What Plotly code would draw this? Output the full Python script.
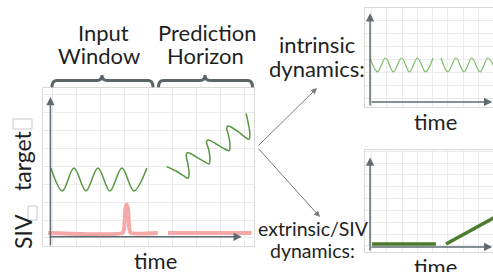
import plotly.graph_objects as go

W, H = 493, 272

# ---------------- data ----------------
# main panel: input window target (sinusoid read at peaks / troughs)
input_t = [-0.07, 0.41, 0.89, 1.39, 1.89, 2.39, 2.89, 3.39, 3.93]
input_target = [3.91, 2.63, 3.91, 2.63, 3.91, 2.63, 3.91, 2.63, 3.91]

# main panel: prediction horizon target (rising, tilted wave)
pred_t = [4.754, 5.183, 5.475, 5.654, 5.692, 5.633, 5.571, 5.621, 5.725, 6.058, 6.35,
          6.529, 6.563, 6.5, 6.417, 6.467, 6.575, 6.892, 7.183,
          7.363, 7.396, 7.333, 7.263, 7.308, 7.413, 7.725, 8.017,
          8.196, 8.225, 8.158, 8.071]
pred_target = [3.983, 3.715, 3.464, 3.335, 3.687, 4.19, 4.626, 4.771, 4.732, 4.48, 4.246,
               4.134, 4.469, 5.0, 5.363, 5.475, 5.436, 5.196, 4.972,
               4.877, 5.251, 5.754, 6.128, 6.257, 6.218, 5.95, 5.654,
               5.514, 5.866, 6.425, 6.966]

# main panel: SIV signal (input window with a spike, then horizon)
siv_t_in = [-0.19, 2.92, 2.98, 3.03, 3.09, 3.15, 3.20, 3.26, 4.39]
siv_in = [0.28, 0.28, 0.5, 1.55, 1.88, 1.55, 0.5, 0.28, 0.28]
siv_t_out = [4.81, 8.30]
siv_out = [0.28, 0.28]

# top-right panel: intrinsic dynamics
intr_t1 = [-0.09, 0.40, 0.92, 1.44, 1.97, 2.49, 3.01, 3.54, 4.03]
intr_v1 = [3.15, 2.08, 3.15, 2.08, 3.15, 2.08, 3.15, 2.08, 3.15]
intr_t2 = [4.55, 5.00, 5.53, 6.05, 6.57, 7.10, 7.62, 8.14]
intr_v2 = [3.15, 2.08, 3.15, 2.08, 3.15, 2.08, 3.15, 2.08]

# bottom-right panel: extrinsic / SIV dynamics
extr_t1 = [0.04, 4.22]
extr_v1 = [0.17, 0.17]
extr_t2 = [4.88, 8.50]
extr_v2 = [0.17, 2.72]

FONT = "Lato"
TXT = "#1f1f1f"
GRID = "#ebebeb"
BORDER = "#d9d9d9"
AXC = "#5f6b70"
GREEN = "#55973f"
GREEN_L = "#7fba6b"
GREEN_D = "#4c7d2c"
PINK = "#f4a8a8"


def px(x):
    return x / W


def py(y):
    return 1 - y / H


fig = go.Figure()

# main panel traces
fig.add_trace(go.Scatter(x=input_t, y=input_target, mode="lines",
                         line=dict(color=GREEN, width=1.5, shape="spline"),
                         xaxis="x", yaxis="y", hoverinfo="skip"))
fig.add_trace(go.Scatter(x=pred_t, y=pred_target, mode="lines",
                         line=dict(color=GREEN, width=1.5, shape="spline", smoothing=0.8),
                         xaxis="x", yaxis="y", hoverinfo="skip"))
fig.add_trace(go.Scatter(x=siv_t_in, y=siv_in, mode="lines",
                         line=dict(color=PINK, width=4, shape="spline", smoothing=0.6),
                         xaxis="x", yaxis="y", hoverinfo="skip"))
fig.add_trace(go.Scatter(x=siv_t_out, y=siv_out, mode="lines",
                         line=dict(color=PINK, width=4),
                         xaxis="x", yaxis="y", hoverinfo="skip"))

# top-right traces
fig.add_trace(go.Scatter(x=intr_t1, y=intr_v1, mode="lines",
                         line=dict(color=GREEN_L, width=1.2, shape="spline"),
                         xaxis="x2", yaxis="y2", hoverinfo="skip"))
fig.add_trace(go.Scatter(x=intr_t2, y=intr_v2, mode="lines",
                         line=dict(color=GREEN_L, width=1.2, shape="spline"),
                         xaxis="x2", yaxis="y2", hoverinfo="skip"))

# bottom-right traces
fig.add_trace(go.Scatter(x=extr_t1, y=extr_v1, mode="lines",
                         line=dict(color=GREEN_D, width=3.5),
                         xaxis="x3", yaxis="y3", hoverinfo="skip"))
fig.add_trace(go.Scatter(x=extr_t2, y=extr_v2, mode="lines",
                         line=dict(color=GREEN_D, width=3.5),
                         xaxis="x3", yaxis="y3", hoverinfo="skip"))


def ax_style(domain, rng, mirror=True):
    return dict(domain=domain, range=rng, showticklabels=False, ticks="",
                zeroline=False, showgrid=True, gridcolor=GRID, gridwidth=1,
                tick0=0, dtick=1, showline=True, linecolor=BORDER,
                linewidth=1, mirror=mirror, fixedrange=True)


fig.update_layout(
    width=W, height=H,
    margin=dict(l=0, r=0, t=0, b=0),
    paper_bgcolor="white", plot_bgcolor="white",
    showlegend=False,
    font=dict(family=FONT, color=TXT),
    xaxis=dict(**ax_style([px(43), px(254)], [-0.4, 8.4]), anchor="y"),
    yaxis=dict(**ax_style([py(246), py(88)], [-0.45, 8.38]), anchor="x"),
    xaxis2=dict(**ax_style([px(365), 1.0], [-0.42, 7.95]), anchor="y2"),
    yaxis2=dict(**ax_style([py(107), py(8)], [-0.62, 7.0], mirror=False), anchor="x2"),
    xaxis3=dict(**ax_style([px(365), 1.0], [-0.42, 7.95]), anchor="y3"),
    yaxis3=dict(**ax_style([py(252), py(149.5)], [-0.51, 8.14], mirror=False), anchor="x3"),
)

annotations = []


def axis_arrow(xr, yr, x, y, ax, ay):
    annotations.append(dict(x=x, y=y, ax=ax, ay=ay, xref=xr, yref=yr,
                            axref=xr, ayref=yr, text="", showarrow=True,
                            arrowhead=2, arrowsize=1.1, arrowwidth=1.5,
                            arrowcolor=AXC))


# main axes arrows
axis_arrow("x", "y", -0.09, 7.88, -0.09, -0.5)
axis_arrow("x", "y", 7.89, 0.06, -0.19, 0.06)
# top-right axes arrows
axis_arrow("x2", "y2", -0.09, 6.6, -0.09, -0.62)
axis_arrow("x2", "y2", 7.9, -0.23, -0.09, -0.23)
# bottom-right axes arrows
axis_arrow("x3", "y3", -0.09, 7.46, -0.09, -0.51)
axis_arrow("x3", "y3", 7.9, -0.08, -0.09, -0.08)

# pointer arrows from main panel to right panels
for tx, ty in [(317, 88), (320, 217)]:
    annotations.append(dict(x=px(tx), y=py(ty), xref="paper", yref="paper",
                            ax=257 - tx, ay=147 - ty, axref="pixel", ayref="pixel",
                            text="", showarrow=True, arrowhead=2, arrowsize=1.2,
                            arrowwidth=1, arrowcolor="#7a7a7a"))


def label(text, x, y, size, angle=0):
    annotations.append(dict(text=text, x=px(x), y=py(y), xref="paper", yref="paper",
                            showarrow=False, xanchor="center", yanchor="middle",
                            textangle=angle, font=dict(family=FONT, size=size, color=TXT)))


label("Input", 103, 32, 22)
label("Window", 99, 56, 22)
label("Prediction", 207, 32, 22)
label("Horizon", 205, 56, 22)
label("target", 22, 161, 23, -90)
label("SIV", 23, 232, 23, -90)
label("time", 155, 260, 22)
label("intrinsic", 317, 45, 22)
label("dynamics:", 317, 68, 22)
label("time", 435, 121, 22)
label("extrinsic/SIV", 313, 228, 19.5)
label("dynamics:", 312, 250, 19.5)
label("time", 435, 266, 22)

fig.update_layout(annotations=annotations)


def brace(x0, x1, xc, y_end=87.3, y_flat=80.5, y_tip=75, r=5):
    return ("M {a},{b} Q {a},{c} {d},{c} L {e},{c} Q {f},{c} {f},{g} "
            "Q {f},{c} {h},{c} L {i},{c} Q {j},{c} {j},{b}").format(
        a=px(x0), b=py(y_end), c=py(y_flat), d=px(x0 + r), e=px(xc - r),
        f=px(xc), g=py(y_tip), h=px(xc + r), i=px(x1 - r), j=px(x1))


shapes = [
    dict(type="path", path=brace(52, 153, 102), xref="paper", yref="paper",
         line=dict(color="#5b6567", width=3)),
    dict(type="path", path=brace(158.5, 252.5, 205), xref="paper", yref="paper",
         line=dict(color="#5b6567", width=3)),
    # missing-glyph boxes after the rotated labels
    dict(type="rect", x0=px(13), x1=px(32), y0=py(129), y1=py(119), xref="paper",
         yref="paper", line=dict(color="#c9c9c9", width=1), fillcolor="white"),
    dict(type="rect", x0=px(28), x1=px(37), y0=py(220), y1=py(206), xref="paper",
         yref="paper", line=dict(color="#c9c9c9", width=1), fillcolor="white"),
]
fig.update_layout(shapes=shapes)

fig.write_html("out.html",
               config={"displayModeBar": False, "staticPlot": True},
               post_script="document.body.style.margin='0';"
                           "document.body.style.overflow='hidden';")
